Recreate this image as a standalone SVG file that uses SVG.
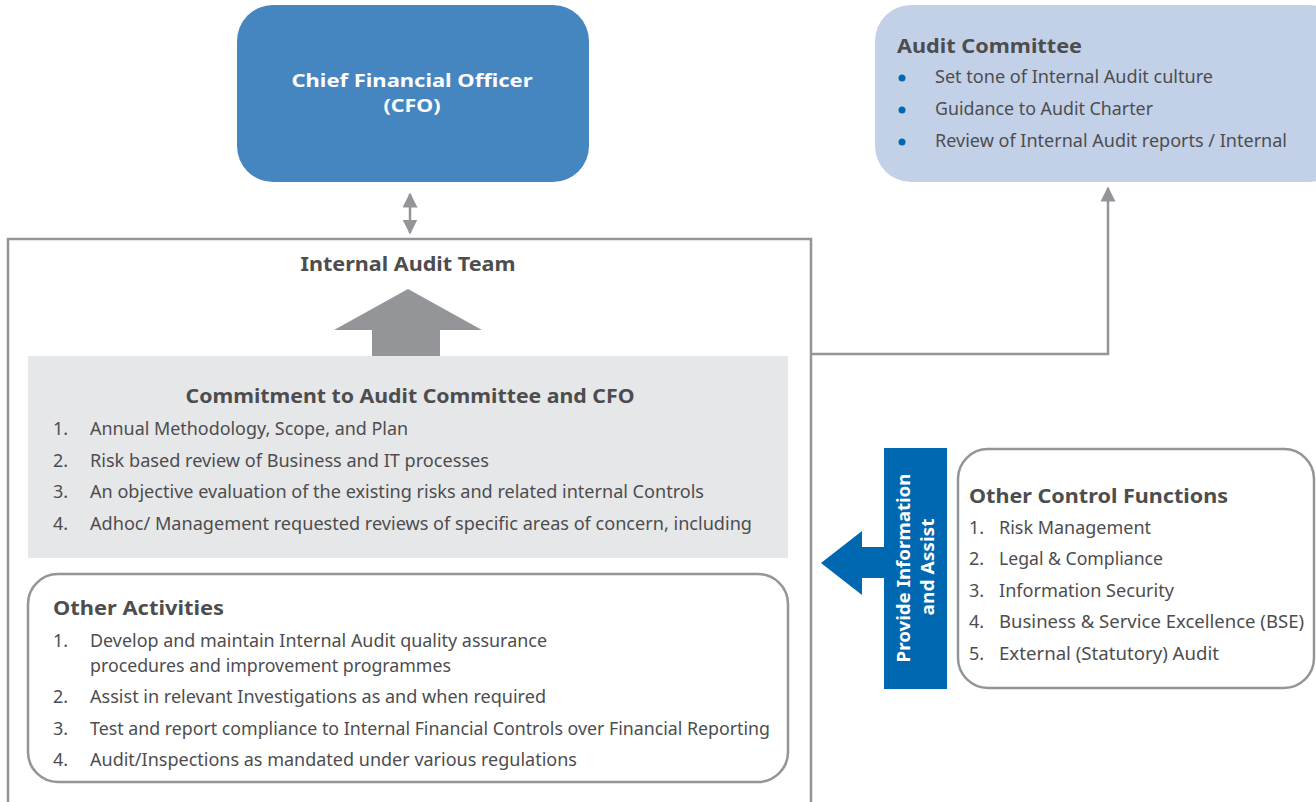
<svg xmlns="http://www.w3.org/2000/svg" width="1316" height="802" viewBox="0 0 1316 802">
<style>
text{font-family:"Noto Sans","Liberation Sans",Arial,sans-serif;fill:#4d4d4f;font-size:18px}
.b{font-weight:bold;font-size:20px}
.w{fill:#ffffff}
.ln{fill:none;stroke:#939598;stroke-width:2.5}
</style>
<defs>
<marker id="ah" viewBox="0 0 10 10" refX="9" refY="5" markerWidth="6" markerHeight="6" markerUnits="strokeWidth" orient="auto-start-reverse">
<path d="M0,0 L10,5 L0,10 z" fill="#939598"/>
</marker>
</defs>
<rect width="1316" height="802" fill="#ffffff"/>

<g id="connectors">
<line class="ln" x1="410" y1="194" x2="410" y2="233" stroke-width="2" marker-start="url(#ah)" marker-end="url(#ah)"/>
<polyline class="ln" points="812,354 1108,354 1108,188" marker-end="url(#ah)"/>
<path d="M821,563 L862,531 L862,547 L884,547 L884,578 L862,578 L862,595 z" fill="#0067b1"/>
</g>

<g id="cfo">
<rect x="237" y="5" width="352" height="177" rx="36" fill="#4586c1"/>
<text class="b w" x="412" y="87" text-anchor="middle" style="font-size:18px" textLength="241" lengthAdjust="spacingAndGlyphs">Chief Financial Officer</text>
<text class="b w" x="412" y="112" text-anchor="middle" style="font-size:18px" textLength="57" lengthAdjust="spacingAndGlyphs">(CFO)</text>
</g>

<g id="audit-committee">
<rect x="875" y="5" width="470" height="177" rx="36" fill="#c3d1e8"/>
<text class="b" x="897" y="53" textLength="185" lengthAdjust="spacingAndGlyphs">Audit Committee</text>
<circle cx="902" cy="78" r="3.5" fill="#0067b1"/>
<circle cx="902" cy="110" r="3.5" fill="#0067b1"/>
<circle cx="902" cy="142" r="3.5" fill="#0067b1"/>
<text x="935" y="83" textLength="278" lengthAdjust="spacingAndGlyphs">Set tone of Internal Audit culture</text>
<text x="935" y="115" textLength="218" lengthAdjust="spacingAndGlyphs">Guidance to Audit Charter</text>
<text x="935" y="147" textLength="352" lengthAdjust="spacingAndGlyphs">Review of Internal Audit reports / Internal</text>
</g>

<g id="internal-audit-team">
<polyline class="ln" points="8,805 8,239 811,239 811,805"/>
<text class="b" x="408" y="271" text-anchor="middle" textLength="215" lengthAdjust="spacingAndGlyphs">Internal Audit Team</text>
<path d="M408,289 L482,330 L440,330 L440,357 L372,357 L372,330 L334,330 z" fill="#939598"/>
</g>

<g id="commitment">
<rect x="28" y="356" width="760" height="202" fill="#e6e7e8"/>
<text class="b" x="410" y="403" text-anchor="middle" textLength="449" lengthAdjust="spacingAndGlyphs">Commitment to Audit Committee and CFO</text>
<text x="53" y="435">1.</text>
<text x="90" y="435" textLength="318" lengthAdjust="spacingAndGlyphs">Annual Methodology, Scope, and Plan</text>
<text x="53" y="467">2.</text>
<text x="90" y="467" textLength="399" lengthAdjust="spacingAndGlyphs">Risk based review of Business and IT processes</text>
<text x="53" y="498">3.</text>
<text x="90" y="498" textLength="614" lengthAdjust="spacingAndGlyphs">An objective evaluation of the existing risks and related internal Controls</text>
<text x="53" y="530">4.</text>
<text x="90" y="530" textLength="662" lengthAdjust="spacingAndGlyphs">Adhoc/ Management requested reviews of specific areas of concern, including</text>
</g>

<g id="other-activities">
<rect class="ln" x="28" y="574" width="760" height="208" rx="30"/>
<text class="b" x="53" y="615" textLength="171" lengthAdjust="spacingAndGlyphs">Other Activities</text>
<text x="53" y="647">1.</text>
<text x="90" y="647" textLength="457" lengthAdjust="spacingAndGlyphs">Develop and maintain Internal Audit quality assurance</text>
<text x="90" y="672" textLength="361" lengthAdjust="spacingAndGlyphs">procedures and improvement programmes</text>
<text x="53" y="703">2.</text>
<text x="90" y="703" textLength="456" lengthAdjust="spacingAndGlyphs">Assist in relevant Investigations as and when required</text>
<text x="53" y="735">3.</text>
<text x="90" y="735" textLength="680" lengthAdjust="spacingAndGlyphs">Test and report compliance to Internal Financial Controls over Financial Reporting</text>
<text x="53" y="766">4.</text>
<text x="90" y="766" textLength="487" lengthAdjust="spacingAndGlyphs">Audit/Inspections as mandated under various regulations</text>
</g>

<g id="provide-info">
<rect x="884" y="448" width="63" height="241" fill="#0067b1"/>
<text class="b w" transform="translate(910,568) rotate(-90)" text-anchor="middle" style="font-size:18px" textLength="189" lengthAdjust="spacingAndGlyphs">Provide Information</text>
<text class="b w" transform="translate(934,567) rotate(-90)" text-anchor="middle" style="font-size:18px" textLength="97" lengthAdjust="spacingAndGlyphs">and Assist</text>
</g>

<g id="other-control-functions">
<rect class="ln" x="958" y="449" width="356" height="239" rx="30"/>
<text class="b" x="969" y="503" textLength="259" lengthAdjust="spacingAndGlyphs">Other Control Functions</text>
<text x="969" y="534">1.</text>
<text x="999" y="534" textLength="152" lengthAdjust="spacingAndGlyphs">Risk Management</text>
<text x="969" y="565">2.</text>
<text x="999" y="565" textLength="164" lengthAdjust="spacingAndGlyphs">Legal &amp; Compliance</text>
<text x="969" y="597">3.</text>
<text x="999" y="597" textLength="175" lengthAdjust="spacingAndGlyphs">Information Security</text>
<text x="969" y="628">4.</text>
<text x="999" y="628" textLength="305" lengthAdjust="spacingAndGlyphs">Business &amp; Service Excellence (BSE)</text>
<text x="969" y="660">5.</text>
<text x="999" y="660" textLength="220" lengthAdjust="spacingAndGlyphs">External (Statutory) Audit</text>
</g>
</svg>
